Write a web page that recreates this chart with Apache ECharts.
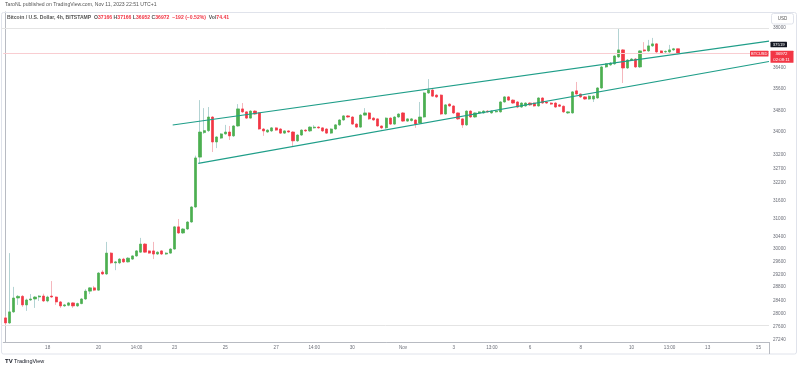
<!DOCTYPE html>
<html><head><meta charset="utf-8">
<script src="https://cdn.jsdelivr.net/npm/echarts@6/dist/echarts.min.js"></script>
<style>html,body{margin:0;padding:0;background:#fff}#c{width:800px;height:370px}</style>
</head><body><div id="c"></div>
<script>
// ---- time axis (4h bars, UTC) ----
const startTimeUTC = Date.UTC(2023, 9, 16, 8);
const barHours = 4;
const categoryCount = 181;
const monthNames = ['Jan','Feb','Mar','Apr','May','Jun','Jul','Aug','Sep','Oct','Nov','Dec'];
const categories = [];
for (let i = 0; i < categoryCount; i++) {
  const d = new Date(startTimeUTC + i * barHours * 3600e3);
  categories.push(monthNames[d.getUTCMonth()] + ' ' + String(d.getUTCDate()).padStart(2,'0') + ' ' + String(d.getUTCHours()).padStart(2,'0') + ':00');
}
const tickLabels = [
  ['Oct 18 00:00','18'],['Oct 20 00:00','20'],['Oct 21 12:00','14:00'],['Oct 23 00:00','23'],
  ['Oct 25 00:00','25'],['Oct 27 00:00','27'],['Oct 28 12:00','14:00'],['Oct 30 00:00','30'],
  ['Nov 01 00:00','Nov'],['Nov 03 00:00','3'],['Nov 04 12:00','13:00'],['Nov 06 00:00','6'],
  ['Nov 08 00:00','8'],['Nov 10 00:00','10'],['Nov 11 12:00','13:00'],['Nov 13 00:00','13'],['Nov 15 00:00','15']
];
const priceTicks = [38000,36400,35600,34800,34000,33200,32700,32200,31600,31000,30400,30000,29600,29200,28800,28400,28000,27600,27240];
const priceScaleTop = 38656;
const priceScaleBottom = 27161;

// ---- BTCUSD 4h candles ----
const opens = [
27870,27720,28050,28470,28520,28260,28410,28440,28500,28530,
28380,28530,28500,28350,28230,28250,28320,28230,28300,28440,
28680,28780,28710,29270,29210,29870,29560,29560,29680,29590,
29680,29780,29900,30160,29940,29940,29840,29940,29840,29870,
30000,30720,30520,30650,30880,31380,33100,33980,34050,34550,
33640,33780,33930,34000,33860,34220,34850,34740,34510,34770,
34700,34110,34000,34040,34150,34110,33960,34040,34000,33680,
33890,34070,34040,34150,34180,34150,34110,33960,34110,34260,
34440,34590,34550,34290,34180,34620,34700,34510,34480,34220,
34150,34510,34290,34550,34700,34400,34420,34440,34330,34550,
35450,35560,35370,35370,34660,35030,34960,34700,34480,34260,
34770,34550,34700,34700,34770,34700,34740,34740,35110,35300,
35180,35110,34920,34960,35070,35070,34960,35260,35110,35070,
35070,35000,34950,34700,34700,35530,35410,35300,35220,35220,
35260,35640,36450,36530,36570,36840,37120,36410,36720,36760,
36450,37120,37080,37280,37360,37080,37040,37040,37120,37166];
const highs = [
27930,29870,28810,28560,28560,28450,28590,28530,28560,28600,
28540,28990,28520,28380,28290,28350,28340,28330,28470,28740,
28800,28840,29270,29330,30230,29900,29620,29710,29720,29740,
29800,29970,30360,30190,29960,30230,29930,29960,29900,30030,
30750,30980,30680,30910,31410,33150,35180,34880,34920,34580,
33850,33960,34260,34220,34250,35030,35070,34760,34800,34800,
34730,34140,34100,34180,34170,34140,34060,34060,34030,33920,
34100,34100,34210,34250,34210,34170,34140,34140,34290,34470,
34620,34620,34580,34320,34660,34880,34730,34540,34500,34240,
34540,34540,34580,34690,34730,34500,34510,34470,35110,35490,
35980,35600,35400,35400,35030,35060,34990,34720,34500,34800,
34800,34720,34760,34800,34800,34800,34800,35140,35330,35330,
35210,35140,35100,35100,35100,35100,35290,35290,35130,35100,
35100,35030,34980,34760,35520,35870,35430,35330,35360,35360,
35670,36490,36600,36640,36910,37960,37150,36760,36800,36800,
37110,37430,37520,37600,37390,37100,37100,37320,37200,37166];
const lows = [
27650,27690,28020,28260,28200,28080,28380,28170,28380,28350,
28340,28470,28260,28170,28200,28220,28170,28200,28280,28410,
28590,28680,28690,29180,29180,29520,29330,29520,29560,29570,
29650,29750,29880,29880,29850,29680,29810,29810,29810,29850,
29980,30490,30490,30620,30850,31350,32890,33930,34000,33280,
33420,33750,33900,33710,33820,34190,34700,34480,34490,34630,
34080,33860,33970,34000,34040,33930,33930,33970,33460,33640,
33860,34000,34000,34120,34120,34000,33930,33930,34080,34220,
34410,34520,34260,34150,34150,34600,34440,34410,34190,34100,
34110,34260,34260,34520,34370,34370,34380,34150,34300,34520,
35410,35300,35260,34620,34630,34930,34660,34440,34150,34220,
34520,34520,34670,34670,34710,34670,34710,34710,35080,35150,
35040,34880,34890,34930,34960,34930,34930,35040,35040,35000,
34890,34920,34700,34660,34670,35380,35260,35190,35190,35110,
35230,35600,36410,36490,36530,36800,35830,36370,36690,36410,
36410,37040,37040,37240,37000,36960,37000,37000,37080,36952];
const closes = [
27720,28050,28470,28520,28260,28410,28440,28500,28530,28380,
28500,28500,28350,28230,28260,28320,28230,28300,28440,28680,
28780,28710,29240,29210,29870,29560,29590,29680,29590,29710,
29780,29940,30160,29900,29870,29840,29900,29840,29870,30000,
30720,30520,30650,30880,31380,33070,34000,34050,34550,33640,
33820,33930,34000,33860,34220,34850,34740,34510,34770,34660,
34110,34040,34070,34150,34070,33960,34040,34000,33680,33890,
34070,34040,34180,34180,34150,34040,33960,34110,34260,34440,
34590,34550,34290,34180,34620,34700,34480,34440,34220,34150,
34510,34290,34550,34660,34400,34480,34480,34290,34550,35450,
35560,35330,35300,34660,35000,34960,34700,34480,34260,34770,
34550,34700,34740,34770,34740,34770,34770,35110,35300,35180,
35070,34920,35070,35070,35000,34960,35260,35070,35070,35030,
34920,34950,34740,34740,35490,35410,35300,35220,35330,35330,
35640,36450,36570,36600,36880,37120,36410,36720,36760,36450,
37080,37080,37280,37360,37040,37000,37060,37120,37164,36972];
const lastVolume = '74.41';

// ---- drawings: trend lines [bar index, price] and scale marker ----
const upperTrend = [[39.55, 34256], [180.5, 37467]];
const lowerTrend = [[45.6, 32880], [180.5, 36662]];
const markerPrice = 37519;
const countdown = '02:08:11';

const UP = '#4caf50', DOWN = '#f23645', WICK_UP = '#b3d3d3', WICK_DOWN = '#f5b7bd';
const FONT = 'Liberation Sans, Arial, sans-serif';

const ohlc = opens.map((o, i) => [o, closes[i], lows[i], highs[i]]);
const bodies = opens.map((o, i) => [o, closes[i], Math.min(o, closes[i]), Math.max(o, closes[i])]);
const tickMap = new Map(tickLabels);

const n = closes.length;
const lastO = opens[n-1], lastH = highs[n-1], lastL = lows[n-1], lastC = closes[n-1];
const chg = lastC - closes[n-2];
const pct = (chg / closes[n-2] * 100).toFixed(2);
const minus = v => (v < 0 ? '\u2212' : '+') + Math.abs(v);

const chart = echarts.init(document.getElementById('c'));
chart.setOption({
  animation: false,
  backgroundColor: '#fff',
  textStyle: { fontFamily: FONT },
  title: [
    { text: 'TaroNL published on TradingView.com, Nov 11, 2023 22:51 UTC+1', left: 5, top: 2, padding: 0,
      textStyle: { fontSize: 5.1, fontWeight: 'normal', color: '#555', fontFamily: FONT } },
    { text: '{a|Bitcoin / U.S. Dollar, 4h, BITSTAMP  O}{r|' + lastO + '}{a| H}{r|' + lastH + '}{a| L}{r|' + lastL +
            '}{a| C}{r|' + lastC + '}{r|  ' + minus(chg) + ' (' + (chg < 0 ? '\u2212' : '+') + Math.abs(pct) + '%)}{a|  Vol}{r|' + lastVolume + '}',
      left: 7, top: 15.5, padding: 0,
      textStyle: { fontSize: 5.1, rich: { a: { fontSize: 5.1, color: '#555', fontFamily: FONT }, r: { fontSize: 5.1, color: DOWN, fontFamily: FONT } } } }
  ],
  grid: { left: 3.25, right: 31, top: 12, bottom: 28 },
  xAxis: [
    { type: 'category', data: categories, boundaryGap: true,
      axisLine: { show: true, lineStyle: { color: '#b8bbc2', width: 1 } },
      axisTick: { show: false }, splitLine: { show: false },
      axisLabel: { interval: (i, v) => tickMap.has(v), formatter: v => tickMap.get(v) || '',
        fontSize: 4.6, color: '#6b6e78', margin: 3.5, fontFamily: FONT } },
    { type: 'value', min: -0.5, max: categoryCount - 0.5, show: false }
  ],
  yAxis: {
    type: 'log', logBase: 10, position: 'right', min: priceScaleBottom, max: priceScaleTop,
    axisLine: { show: true, lineStyle: { color: '#b8bbc2', width: 1 } },
    axisTick: { show: false }, splitLine: { show: false },
    axisLabel: { customValues: priceTicks, formatter: v => String(Math.round(v)),
      fontSize: 4.6, color: '#6b6e78', margin: 4, fontFamily: FONT }
  },
  series: [
    { type: 'candlestick', data: ohlc, barWidth: 1, silent: true,
      itemStyle: { color: WICK_UP, color0: WICK_DOWN, borderColor: WICK_UP, borderColor0: WICK_DOWN, borderWidth: 1 } },
    { type: 'candlestick', data: bodies, barWidth: '62%', silent: true,
      itemStyle: { color: UP, color0: DOWN, borderColor: UP, borderColor0: DOWN, borderWidth: 0.7 },
      markLine: { silent: true, symbol: ['none','none'], animation: false, label: { show: false },
        lineStyle: { color: '#f9cdd1', width: 1, type: 'solid' }, data: [{ yAxis: lastC }] } },
    { type: 'line', xAxisIndex: 1, data: upperTrend, symbol: 'none', silent: true, z: 5,
      lineStyle: { color: '#1f9e89', width: 1.2 } },
    { type: 'line', xAxisIndex: 1, data: lowerTrend, symbol: 'none', silent: true, z: 5,
      lineStyle: { color: '#1f9e89', width: 1.2 } }
  ]
});

const yMarker = chart.convertToPixel({ yAxisIndex: 0 }, markerPrice) + 4.6;
const yLast = chart.convertToPixel({ yAxisIndex: 0 }, lastC);
const txt = (x, y, s, fill, size, align, weight) => ({ type: 'text', silent: true, z: 20,
  style: { x, y, text: s, fill, fontSize: size, fontFamily: FONT, align: align || 'left', verticalAlign: 'middle', fontWeight: weight || 'normal' } });
chart.setOption({
  graphic: [
    { type: 'rect', silent: true, z: 1, shape: { x: 1.5, y: 12.5, width: 795, height: 341.5, r: 2 }, style: { fill: 'none', stroke: '#e0e3eb', lineWidth: 1 } },
    { type: 'line', silent: true, z: 1, shape: { x1: 1.5, y1: 28.5, x2: 769, y2: 28.5 }, style: { stroke: '#e4e4e4', lineWidth: 1 } },
    { type: 'line', silent: true, z: 1, shape: { x1: 1.5, y1: 325.5, x2: 769, y2: 325.5 }, style: { stroke: '#e4e4e4', lineWidth: 1 } },
    { type: 'line', silent: true, z: 1, shape: { x1: 769.5, y1: 342, x2: 769.5, y2: 354 }, style: { stroke: '#b8bbc2', lineWidth: 1 } },
    { type: 'rect', silent: true, z: 10, shape: { x: 771.5, y: 13.5, width: 22, height: 10.5, r: 2 }, style: { fill: '#fff', stroke: '#e0e3eb', lineWidth: 1 } },
    txt(782.5, 19, 'USD', '#555', 4.5, 'center'),
    { type: 'rect', silent: true, z: 15, shape: { x: 770.5, y: yMarker - 2.8, width: 16.5, height: 5.6, r: 0.5 }, style: { fill: '#131722' } },
    txt(778.7, yMarker, String(markerPrice), '#fff', 4.3, 'center'),
    { type: 'rect', silent: true, z: 15, shape: { x: 770.5, y: yLast - 3, width: 23, height: 12, r: 0.5 }, style: { fill: DOWN } },
    txt(781.5, yLast, String(lastC), '#fff', 4.3, 'center'),
    txt(781.5, yLast + 6, countdown, '#fff', 4.3, 'center'),
    { type: 'rect', silent: true, z: 15, shape: { x: 750, y: yLast - 2.8, width: 18.5, height: 5.6, r: 0.5 }, style: { fill: DOWN } },
    txt(759.2, yLast, 'BTCUSD', '#fff', 4, 'center'),
    txt(5, 361.3, 'TV', '#131722', 6, 'left', 'bold'),
    txt(14, 361.3, 'TradingView', '#131722', 5.5, 'left')
  ]
});
</script></body></html>
